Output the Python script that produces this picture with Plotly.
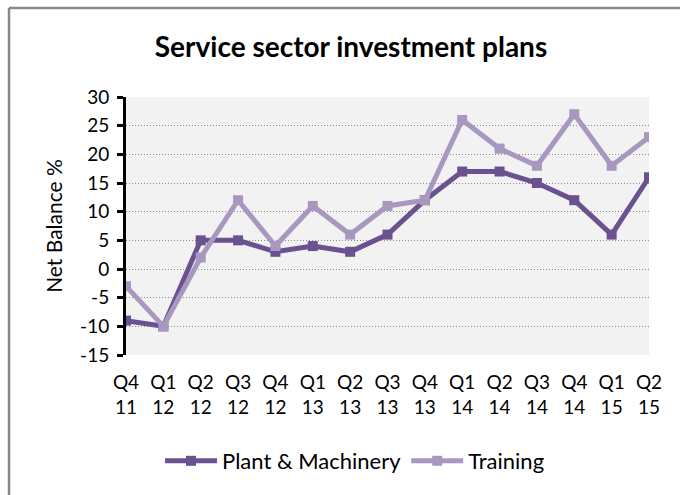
import plotly.graph_objects as go

# Quarterly survey results (net balance, %)
quarters = ["Q4<br>11", "Q1<br>12", "Q2<br>12", "Q3<br>12", "Q4<br>12", "Q1<br>13", "Q2<br>13",
            "Q3<br>13", "Q4<br>13", "Q1<br>14", "Q2<br>14", "Q3<br>14", "Q4<br>14", "Q1<br>15", "Q2<br>15"]
plant_machinery = [-9, -10, 5, 5, 3, 4, 3, 6, 12, 17, 17, 15, 12, 6, 16]
training = [-3, -10, 2, 12, 4, 11, 6, 11, 12, 26, 21, 18, 27, 18, 23]
y_ticks = [-15, -10, -5, 0, 5, 10, 15, 20, 25, 30]
y_tick_labels = ["-15", "-10", "-5", "0", "5", "10", "15", "20", "25", "30"]

W, H = 680, 495
ML, MR, MT, MB = 126, 31, 97, 140
FONT = "Lato, Open Sans, sans-serif"

x_idx = list(range(len(quarters)))

fig = go.Figure()
fig.add_trace(go.Scatter(
    x=x_idx, y=plant_machinery, name="Plant & Machinery", mode="lines+markers",
    line=dict(color="#6A5190", width=5),
    marker=dict(symbol="square", size=10, color="#6A5190"),
))
fig.add_trace(go.Scatter(
    x=x_idx, y=training, name="Training", mode="lines+markers",
    line=dict(color="#A898C0", width=5),
    marker=dict(symbol="square", size=10, color="#A898C0"),
))

pw = W - ML - MR
ph = H - MT - MB
# outer chart frame (top and left edges visible)
fx = (9 - ML) / pw
fy_top = 1 + (MT - 8) / ph
fy_bot = -(MB + 20) / ph
fx_right = 1 + (MR + 20) / pw
fig.add_shape(type="line", xref="paper", yref="paper", x0=fx, x1=fx_right, y0=fy_top, y1=fy_top,
              line=dict(color="#888888", width=2.5), layer="above")
fig.add_shape(type="line", xref="paper", yref="paper", x0=fx, x1=fx, y0=fy_bot, y1=fy_top,
              line=dict(color="#888888", width=2.5), layer="above")

fig.update_layout(
    width=W, height=H,
    margin=dict(l=ML, r=MR, t=MT, b=MB),
    paper_bgcolor="white",
    plot_bgcolor="#F2F2F2",
    font=dict(family=FONT, size=19, color="black"),
    title=dict(text="<b>Service sector investment plans</b>", x=351 / W, xanchor="center",
               y=1 - 47 / H, yanchor="middle", font=dict(size=28, family=FONT)),
    showlegend=True,
    legend=dict(orientation="h", x=355 / W, xref="container", xanchor="center",
                y=1 - 461 / H, yref="container", yanchor="middle",
                font=dict(size=22, family=FONT), itemwidth=52, tracegroupgap=0),
    xaxis=dict(
        range=[0, len(quarters) - 1], tickmode="array", tickvals=x_idx, ticktext=quarters,
        showgrid=False, zeroline=False, showline=False, ticks="",
        tickfont=dict(size=19), ticklabelstandoff=14,
    ),
    # axis line and ticks drawn along the zero level
    xaxis2=dict(
        overlaying="x", anchor="free", position=15 / 45, range=[0, len(quarters) - 1],
        tickmode="array", tickvals=x_idx, showticklabels=False,
        showline=True, linecolor="black", linewidth=3,
        ticks="outside", ticklen=5, tickwidth=3, tickcolor="black",
        showgrid=False, zeroline=False,
    ),
    yaxis=dict(
        range=[-15, 30], tickmode="array", tickvals=y_ticks, ticktext=y_tick_labels,
        showgrid=True, gridcolor="#8C8C8C", griddash="1px,2px", gridwidth=1,
        zeroline=False, showline=True, linecolor="black", linewidth=3,
        ticks="outside", ticklen=6, tickwidth=3, tickcolor="black",
        tickfont=dict(size=19), ticklabelstandoff=4,
        title=dict(text="Net Balance %", font=dict(size=21), standoff=12),
    ),
)

fig.write_html("out.html")
